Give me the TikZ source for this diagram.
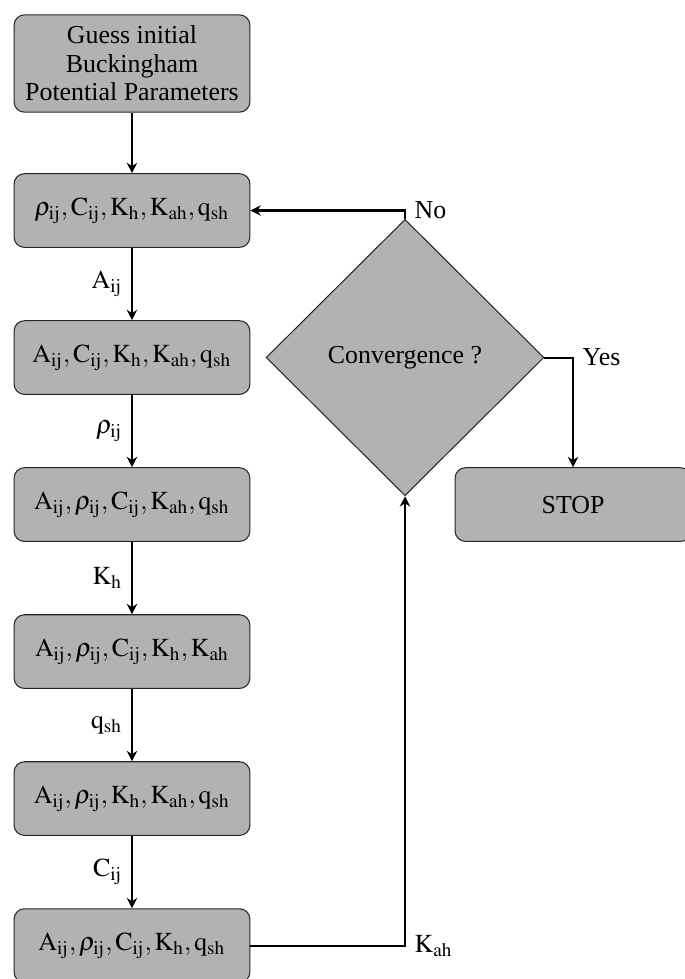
\documentclass[tikz,border=0pt]{standalone}
\usepackage{amsmath}
\usepackage{mathptmx}
\usepackage{fontspec}
\setmainfont{Liberation Serif}
\usepackage{tikz}
\usetikzlibrary{arrows.meta,positioning,shapes.geometric}
\usepackage{xcolor}
\definecolor{boxfill}{gray}{0.70}

\newcommand{\Aij}{\mathrm{A_{ij}}}
\newcommand{\Cij}{\mathrm{C_{ij}}}
\newcommand{\Kh}{\mathrm{K_{h}}}
\newcommand{\Kah}{\mathrm{K_{ah}}}
\newcommand{\qsh}{\mathrm{q_{sh}}}
\newcommand{\rhoij}{\rho_{\mathrm{ij}}}

\begin{document}
\begin{tikzpicture}[
  node distance=1.995cm, on grid,
  param/.style={rectangle, rounded corners=4pt, draw=black!85, fill=boxfill, minimum width=3.2cm, minimum height=1cm, align=center},
  decision/.style={diamond, aspect=1, draw=black!85, fill=boxfill, minimum width=3.77cm, minimum height=3.75cm, inner sep=0pt},
  arrow/.style={-{Stealth[length=4pt,width=4pt]}, thick},
]
  \useasboundingbox (-1.791,0.862) rectangle (7.491,-12.423);
  \node[param, minimum height=1.32cm] (guess) {Guess initial\\[-1pt]Buckingham\\[-1pt]Potential Parameters};
  \node[param, below=of guess] (p1) {$\rhoij, \Cij, \Kh, \Kah, \qsh$};
  \node[param, below=of p1] (p2) {$\Aij, \Cij, \Kh, \Kah, \qsh$};
  \node[param, below=of p2] (p3) {$\Aij, \rhoij, \Cij, \Kah, \qsh$};
  \node[param, below=of p3] (p4) {$\Aij, \rhoij, \Cij, \Kh, \Kah$};
  \node[param, below=of p4] (p5) {$\Aij, \rhoij, \Kh, \Kah, \qsh$};
  \node[param, below=of p5] (p6) {$\Aij, \rhoij, \Cij, \Kh, \qsh$};
  \node[decision, right=3.705cm of p2] (conv) {Convergence ?};
  \node[param, right=5.985cm of p3] (stop) {STOP};
  % chain of updates
  \draw[arrow] (guess) -- (p1);
  \draw[arrow] (p1) -- node[left] {$\Aij$} (p2);
  \draw[arrow] (p2) -- node[left] {$\rhoij$} (p3);
  \draw[arrow] (p3) -- node[left] {$\Kh$} (p4);
  \draw[arrow] (p4) -- node[left] {$\qsh$} (p5);
  \draw[arrow] (p5) -- node[left] {$\Cij$} (p6);
  % loop back
  \draw[arrow] (p6.east) -| node[pos=0.5, right] {$\Kah$} (conv.south);
  \draw[arrow] (conv.north) |- node[pos=0.5, right] {No} (p1.east);
  \draw[arrow] (conv.east) -| node[pos=0.5, right] {Yes} (stop.north);
\end{tikzpicture}
\end{document}
